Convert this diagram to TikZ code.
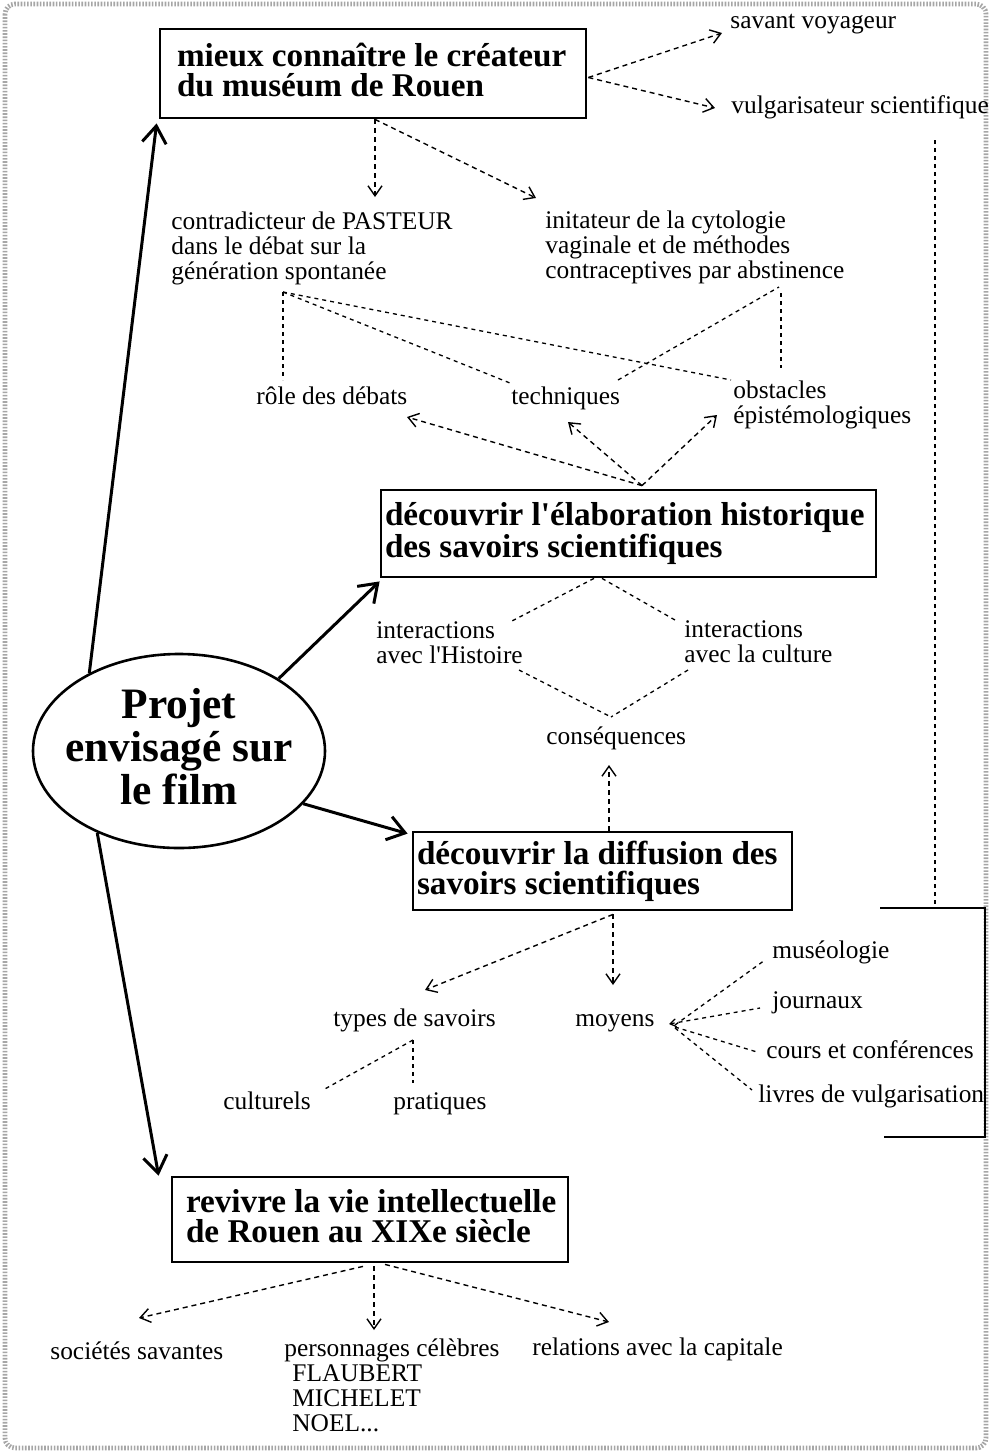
\documentclass[tikz,border=0pt]{standalone}
\usepackage{fontspec}
\setmainfont{Liberation Serif}[Ligatures=TeXOff]
\usetikzlibrary{arrows.meta,shapes.geometric}
% struts that give every text line the same height and depth
\newcommand\hiStrut{\rule{0pt}{0.72em}}
\newcommand\loStrut{\rule[-0.22em]{0pt}{0pt}}
% a left-aligned line of fixed width inside a framed goal
\newcommand\padl[2]{\makebox[#1][l]{#2}}
\begin{document}
\begin{tikzpicture}[x=0.5pt,y=-0.5pt,
  txt/.style={inner sep=0pt, anchor=west, align=left,
    font=\fontsize{12.7}{12.5}\selectfont,
    execute at begin node=\hiStrut, execute at end node=\loStrut},
  goal/.style={draw, line width=1.4pt, inner sep=0pt, align=left,
    font=\fontsize{16.6}{15}\selectfont\bfseries,
    execute at begin node=\hiStrut, execute at end node=\loStrut},
  hub/.style={ellipse, draw, line width=1.3pt, inner xsep=-6pt, inner ysep=0pt,
    minimum width=146pt, minimum height=97pt, align=center,
    font=\fontsize{21.7}{21.5}\selectfont\bfseries,
    execute at begin node=\hiStrut, execute at end node=\loStrut},
  main/.style={line width=1.5pt, -{Straight Barb[length=8.5pt,width=12pt,line width=1.5pt]}},
  darr/.style={line width=0.7pt, dash pattern=on 2.5pt off 2pt,
    -{Straight Barb[length=5pt,width=7pt,line width=0.7pt]}},
  link/.style={line width=0.65pt, dash pattern=on 2pt off 2pt},
  frame/.style={gray!70, line width=2.4pt, dash pattern=on 0.8pt off 0.8pt, rounded corners=5pt},
]
\fill[white] (0,0) rectangle (990,1453);
\useasboundingbox (0,0) rectangle (990,1453);
\draw[frame] (5,4) rectangle (986,1448);

% central ellipse
\node[hub] (pe) at (179,751) {Projet\\envisagé sur\\le film};

% the four goals
\node[goal, minimum width=213pt, minimum height=44.5pt] (b1) at (373,73.5)
  {\padl{196pt}{mieux connaître le créateur}\\\padl{196pt}{du muséum de Rouen}};
\node[goal, minimum width=247.5pt, minimum height=43.5pt] (b2) at (628.5,533.5)
  {\padl{243.5pt}{découvrir l'élaboration historique}\\\padl{243.5pt}{des savoirs scientifiques}};
\node[goal, minimum width=189.5pt, minimum height=39pt] (b3) at (602.5,871)
  {\padl{185.5pt}{découvrir la diffusion des}\\\padl{185.5pt}{savoirs scientifiques}};
\node[goal, minimum width=198pt, minimum height=42.5pt] (b4) at (370,1219.5)
  {\padl{184pt}{revivre la vie intellectuelle}\\\padl{184pt}{de Rouen au XIXe siècle}};

% labels
\node[txt] (sv) at (730,22) {savant voyageur};
\node[txt] (vs) at (731,107) {vulgarisateur scientifique};
\node[txt] (cp) at (171,248) {contradicteur de PASTEUR\\dans le débat sur la\\génération spontanée};
\node[txt] (ini) at (545,247) {initateur de la cytologie\\vaginale et de méthodes\\contraceptives par abstinence};
\node[txt] (rd) at (256,398) {rôle des débats};
\node[txt] (tq) at (511,398) {techniques};
\node[txt] (ob) at (733,405) {obstacles\\épistémologiques};
\node[txt] (ih) at (376,645.5) {interactions\\avec l'Histoire};
\node[txt] (ic) at (684,644.5) {interactions\\avec la culture};
\node[txt] (cq) at (546,738) {conséquences};
\node[txt] (ts) at (333,1020) {types de savoirs};
\node[txt] (my) at (575,1020) {moyens};
\node[txt] (cu) at (223,1103) {culturels};
\node[txt] (pr) at (393,1103) {pratiques};
\node[txt] (mu) at (772,952) {muséologie};
\node[txt] (jo) at (772,1002) {journaux};
\node[txt] (co) at (766,1052) {cours et conférences};
\node[txt] (li) at (758,1096) {livres de vulgarisation};
\node[txt] (ss) at (50,1353) {sociétés savantes};
\node[txt] (pc) at (284,1387.5) {personnages célèbres\\\hspace*{4pt}FLAUBERT\\\hspace*{4pt}MICHELET\\\hspace*{4pt}NOEL...};
\node[txt] (rc) at (532,1349) {relations avec la capitale};

% bracket on the right margin
\coordinate (bkA) at (880,908);
\coordinate (bkB) at (985,908);
\coordinate (bkC) at (985,1137);
\coordinate (bkD) at (884,1137);
\coordinate (bkT) at (935,906);
\draw[line width=0.7pt] (bkA) -- (bkB) -- (bkC) -- (bkD);

% thick arrows from the ellipse
\draw[main] (pe.139.7) -- ([shift={(-2,4)}]b1.south west);
\draw[main] (pe.36) -- ([shift={(0,3)}]b2.south west);
\draw[main] (pe.-23) -- ([shift={(-4,3)}]b3.north west);
\draw[main] (pe.-135) -- ([shift={(-12,0)}]b4.north west);

% first goal
\draw[darr] ([shift={(1,4)}]b1.east) -- ([shift={(-8,11)}]sv.west);
\draw[darr] ([shift={(1,4)}]b1.east) -- ([shift={(-16,1)}]vs.west);
\draw[darr] ([shift={(2,0)}]b1.south) -- ([shift={(204,-51)}]cp.west);
\draw[darr] ([shift={(2,0)}]b1.south) -- ([shift={(-9,-49)}]ini.west);
\draw[link] ([shift={(204,33)}]vs.west) -- (bkT);

% links between the scientist's works and the themes
\draw[link] ([shift={(112,44)}]cp.west) -- ([shift={(27,-18)}]rd.west);
\draw[link] ([shift={(112,44)}]cp.west) -- ([shift={(-1,-15)}]tq.west);
\draw[link] ([shift={(112,44)}]cp.west) -- ([shift={(-2,-25)}]ob.west);
\draw[link] ([shift={(107,-18)}]tq.west) -- ([shift={(234,40)}]ini.west);
\draw[link] ([shift={(236,46)}]ini.west) -- ([shift={(48,-37)}]ob.west);

% second goal
\draw[darr] ([shift={(13.5,-3)}]b2.north) -- ([shift={(151,19)}]rd.west);
\draw[darr] ([shift={(13.5,-3)}]b2.north) -- ([shift={(57,24)}]tq.west);
\draw[darr] ([shift={(13.5,-3)}]b2.north) -- ([shift={(-16,10)}]ob.west);
\draw[link] ([shift={(-34.5,0)}]b2.south) -- ([shift={(134,-23.5)}]ih.west);
\draw[link] ([shift={(-26.5,0)}]b2.south) -- ([shift={(-9,-24.5)}]ic.west);
\draw[link] ([shift={(143,24.5)}]ih.west) -- ([shift={(65,-21)}]cq.west);
\draw[link] ([shift={(4,25.5)}]ic.west) -- ([shift={(65,-21)}]cq.west);

% third goal
\draw[darr] ([shift={(6.5,0)}]b3.north) -- ([shift={(63,27)}]cq.west);
\draw[darr] ([shift={(10.5,3)}]b3.south) -- ([shift={(92,-30)}]ts.west);
\draw[darr] ([shift={(10.5,3)}]b3.south) -- ([shift={(38,-35)}]my.west);
\draw[link] ([shift={(80,20)}]ts.west) -- ([shift={(100,-13)}]cu.west);
\draw[link] ([shift={(80,20)}]ts.west) -- ([shift={(20,-20)}]pr.west);
\draw[link] ([shift={(100,5)}]my.west) -- ([shift={(-7,8)}]mu.west);
\draw[link, {Straight Barb[length=3pt,width=4pt,line width=0.6pt]}-] ([shift={(94,4)}]my.west) -- ([shift={(-12,6)}]jo.west);
\draw[link] ([shift={(100,7)}]my.west) -- ([shift={(-9,0)}]co.west);
\draw[link] ([shift={(100,8)}]my.west) -- ([shift={(-6,-6)}]li.west);

% fourth goal
\draw[darr] ([shift={(-7,3)}]b4.south) -- ([shift={(89,-35)}]ss.west);
\draw[darr] ([shift={(4,3)}]b4.south) -- ([shift={(90,-57.5)}]pc.west);
\draw[darr] ([shift={(15,1)}]b4.south) -- ([shift={(77,-27)}]rc.west);
\end{tikzpicture}
\end{document}
